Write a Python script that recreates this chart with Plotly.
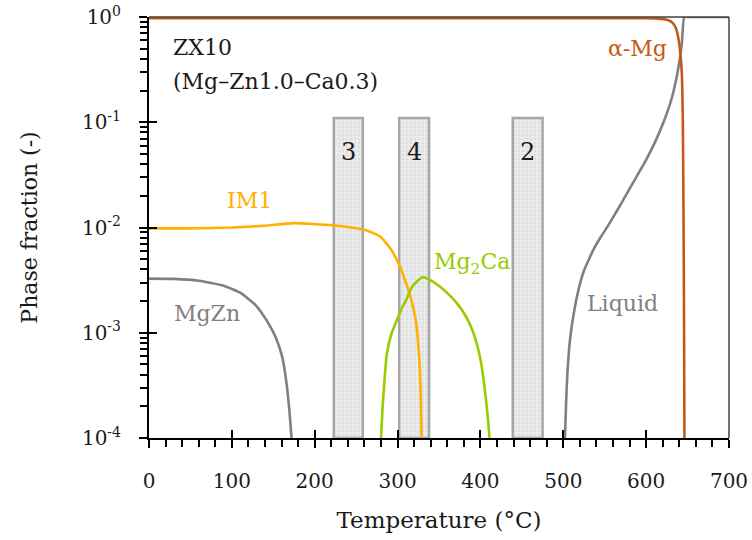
import math
import plotly.graph_objects as go

# ---------------- data ----------------
alpha_T = [0, 100, 200, 300, 400, 500, 560, 600, 615, 625, 632, 636, 639, 641, 643, 644.3, 645.2, 645.8, 646.2]
alpha_V = [0.975, 0.975, 0.975, 0.975, 0.975, 0.975, 0.975, 0.972, 0.965, 0.94, 0.88, 0.78, 0.62, 0.47, 0.3, 0.1, 0.01, 0.001, 0.0001]

liq_T = [502, 503.5, 505, 507, 509.5, 512.5, 516, 520, 525, 531, 538, 546, 555, 565, 576, 588, 600, 612, 622, 631, 638, 643, 646, 650, 700]
liq_V = [1e-4, 2.3e-4, 4.2e-4, 7e-4, 1.05e-3, 1.5e-3, 2.1e-3, 2.9e-3, 3.9e-3, 5.0e-3, 6.5e-3, 8.3e-3, 1.07e-2, 1.45e-2, 2.05e-2, 3.0e-2, 4.4e-2, 6.8e-2, 0.105, 0.17, 0.30, 0.55, 1.0, 1.0, 1.0]

mgzn_T = [0, 30, 60, 90, 110, 128, 142, 153, 161, 166, 169.5, 172]
mgzn_V = [3.27e-3, 3.25e-3, 3.12e-3, 2.8e-3, 2.4e-3, 1.85e-3, 1.31e-3, 9e-4, 5.8e-4, 3.3e-4, 1.8e-4, 1e-4]

im1_T = [0, 50, 100, 140, 174, 222, 260, 279, 292, 302, 310, 317, 322, 326, 328, 329]
im1_V = [9.8e-3, 9.8e-3, 1.0e-2, 1.04e-2, 1.10e-2, 1.05e-2, 9.5e-3, 8.2e-3, 6.2e-3, 4.4e-3, 3.0e-3, 2.0e-3, 1.3e-3, 6e-4, 2.5e-4, 1e-4]

mg2ca_T = [280, 282, 284.5, 287, 293, 299, 305, 311, 316, 322, 330.5, 340, 351, 362, 373, 382, 389, 395, 400, 404, 407, 409.5, 411]
mg2ca_V = [1e-4, 2.0e-4, 3.8e-4, 6.3e-4, 1.0e-3, 1.31e-3, 1.7e-3, 2.1e-3, 2.6e-3, 3.0e-3, 3.39e-3, 3.15e-3, 2.75e-3, 2.3e-3, 1.85e-3, 1.45e-3, 1.12e-3, 8.2e-4, 5.6e-4, 3.5e-4, 2.2e-4, 1.4e-4, 1e-4]

box_labels = ["3", "4", "2"]
box_left = [223, 302, 439]
box_right = [258, 338, 475]
box_bottom = 1e-4
box_top = 0.11

x_ticks = [0, 100, 200, 300, 400, 500, 600, 700]
x_minor = [v for v in range(0, 701, 20) if v % 100 != 0]
y_ticks = [1e-4, 1e-3, 1e-2, 1e-1, 1e0]
y_ticktext = ["10<sup>-4</sup>", "10<sup>-3</sup>", "10<sup>-2</sup>", "10<sup>-1</sup>", "10<sup>0</sup>"]
y_minor = [k * 10.0 ** e for e in range(-4, 0) for k in range(2, 10)]

# ---------------- styling ----------------
FONT = "DejaVu Serif"
C_ALPHA = "#C55A11"
C_GRAY = "#808080"
C_IM1 = "#FFB000"
C_MG2CA = "#99CC00"
C_TEXT = "#1a1a1a"

fig = go.Figure()

# shaded boxes
for lab, l, r in zip(box_labels, box_left, box_right):
    fig.add_trace(go.Scatter(
        x=[l, r, r, l, l], y=[box_bottom, box_bottom, box_top, box_top, box_bottom],
        mode="lines", fill="toself",
        fillcolor="#ebebeb",
        fillpattern=dict(shape=".", fgcolor="#cfcfcf", bgcolor="#ededed", size=4, solidity=0.4),
        line=dict(color="#a6a6a6", width=2.5),
        showlegend=False, hoverinfo="skip"))

def add_line(x, y, color):
    fig.add_trace(go.Scatter(x=x, y=y, mode="lines", line=dict(color=color, width=2.6, shape="spline", smoothing=0.5),
                             showlegend=False))

add_line(mgzn_T, mgzn_V, C_GRAY)
add_line(liq_T, liq_V, C_GRAY)
add_line(im1_T, im1_V, C_IM1)
add_line(mg2ca_T, mg2ca_V, C_MG2CA)
add_line(alpha_T, alpha_V, C_ALPHA)

# dummy trace for overlay axes (inside major ticks)
fig.add_trace(go.Scatter(x=[None], y=[None], xaxis="x2", yaxis="y2", showlegend=False, hoverinfo="skip"))

def ann(text, x, yval, color, size=22, xanchor="center"):
    fig.add_annotation(x=x, y=math.log10(yval), text=text, showarrow=False,
                       xanchor=xanchor, yanchor="middle",
                       font=dict(family=FONT, size=size, color=color))

ann("ZX10", 27, 10 ** -0.288, C_TEXT, xanchor="left")
ann("(Mg–Zn1.0–Ca0.3)", 27, 10 ** -0.611, C_TEXT, xanchor="left")
ann("α-Mg", 628, 10 ** -0.297, C_ALPHA, xanchor="right")
ann("IM1", 121, 10 ** -1.741, C_IM1)
ann("MgZn", 70, 10 ** -2.815, C_GRAY)
ann("Mg<sub>2</sub>Ca", 390, 10 ** -2.34, C_MG2CA)
ann("Liquid", 572, 10 ** -2.72, C_GRAY)
for lab, l, r in zip(box_labels, box_left, box_right):
    ann(lab, (l + r) / 2, 10 ** -1.286, C_TEXT, size=24)

# frame top / right
fig.add_shape(type="line", xref="x domain", yref="y domain", x0=0, x1=1, y0=1, y1=1,
              line=dict(color="#404040", width=1.5), layer="above")
fig.add_shape(type="line", xref="x domain", yref="y domain", x0=1, x1=1, y0=0, y1=1,
              line=dict(color="#404040", width=1.5), layer="above")

fig.update_layout(
    width=752, height=540,
    margin=dict(l=149, r=23, t=17, b=102, autoexpand=False),
    paper_bgcolor="white", plot_bgcolor="white",
    font=dict(family=FONT, color=C_TEXT),
    xaxis=dict(
        range=[0, 700], tickvals=x_ticks, ticks="outside", ticklen=8, tickwidth=2,
        tickcolor="black", showline=True, linecolor="black", linewidth=2,
        showgrid=False, zeroline=False, automargin=False,
        minor=dict(tickvals=x_minor, ticks="outside", ticklen=7, tickwidth=1.5, tickcolor="black"),
        tickfont=dict(family=FONT, size=20, color=C_TEXT),
        ticklabelstandoff=16,
        title=dict(text="Temperature (°C)", font=dict(family=FONT, size=23, color=C_TEXT), standoff=20),
    ),
    yaxis=dict(
        type="log", range=[-4, 0], tickvals=y_ticks, ticktext=y_ticktext,
        ticks="outside", ticklen=8, tickwidth=2, tickcolor="black",
        showline=True, linecolor="black", linewidth=2, showgrid=False, zeroline=False,
        automargin=False,
        minor=dict(tickvals=y_minor, ticks="outside", ticklen=7, tickwidth=1.5, tickcolor="black"),
        tickfont=dict(family=FONT, size=20, color=C_TEXT),
        ticklabelstandoff=14,
        title=dict(text="Phase fraction (-)", font=dict(family=FONT, size=22, color=C_TEXT), standoff=38),
    ),
    xaxis2=dict(overlaying="x", anchor="y", side="bottom", range=[0, 700], tickvals=x_ticks,
                ticks="inside", ticklen=8, tickwidth=2, tickcolor="black", automargin=False,
                showticklabels=False, showgrid=False, zeroline=False, showline=False),
    yaxis2=dict(overlaying="y", anchor="x", side="left", type="log", range=[-4, 0], tickvals=y_ticks,
                ticks="inside", ticklen=8, tickwidth=2, tickcolor="black", automargin=False,
                showticklabels=False, showgrid=False, zeroline=False, showline=False),
)

fig.write_html("out.html")
